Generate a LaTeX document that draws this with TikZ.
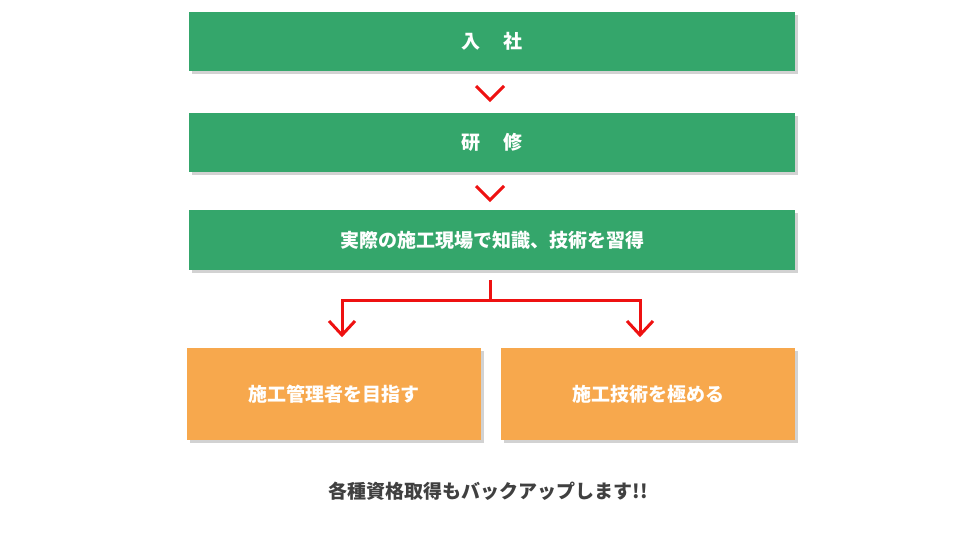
\documentclass[tikz,border=0pt]{standalone}
\usepackage{fontspec}
\setmainfont{Noto Sans CJK JP}
\usetikzlibrary{shadows}
\definecolor{gr}{HTML}{34A66B}
\definecolor{org}{HTML}{F7A84D}
\definecolor{rd}{HTML}{EE1111}
\definecolor{tx}{HTML}{404040}
\tikzset{
 box/.style={fill=#1, minimum height=59pt, inner sep=0pt, text=white, font=\bfseries\fontsize{19}{22}\selectfont, drop shadow={shadow xshift=3pt, shadow yshift=-3pt, fill=black!35, opacity=0.5}},
 redline/.style={draw=rd, line width=3pt},
}
\begin{document}
\begin{tikzpicture}[x=1pt,y=-1pt]
\useasboundingbox (0,0) rectangle (980,541);
\node[box=gr, minimum width=606pt] (a) at (492,41.5) {入\hspace{1.2em}社};
\node[box=gr, minimum width=606pt] (b) at (492,142.5) {研\hspace{1.2em}修};
\node[box=gr, minimum width=606pt, minimum height=60pt] (c) at (492,240) {実際の施工現場で知識、技術を習得};
\node[box=org, minimum width=294pt, minimum height=92pt] (d) at (334,394) {施工管理者を目指す};
\node[box=org, minimum width=294pt, minimum height=92pt] (e) at (648,394) {施工技術を極める};
\node[text=tx, font=\bfseries\fontsize{19}{22}\selectfont] (t) at (488,491) {各種資格取得もバックアップします!!};
\draw[redline] (476,86) -- (490,100) -- (504,86);
\draw[redline] (476,186) -- (490,200) -- (504,186);
\coordinate (l) at (342,335); \coordinate (r) at (640,335);
\draw[redline] (c.south -| 490,0) ++(0,10) -- (490,300) -| (l);
\draw[redline] (490,300) -| (r);
\draw[redline] (329,321) -- (l) -- (355,321);
\draw[redline] (627,321) -- (r) -- (653,321);
\end{tikzpicture}
\end{document}
